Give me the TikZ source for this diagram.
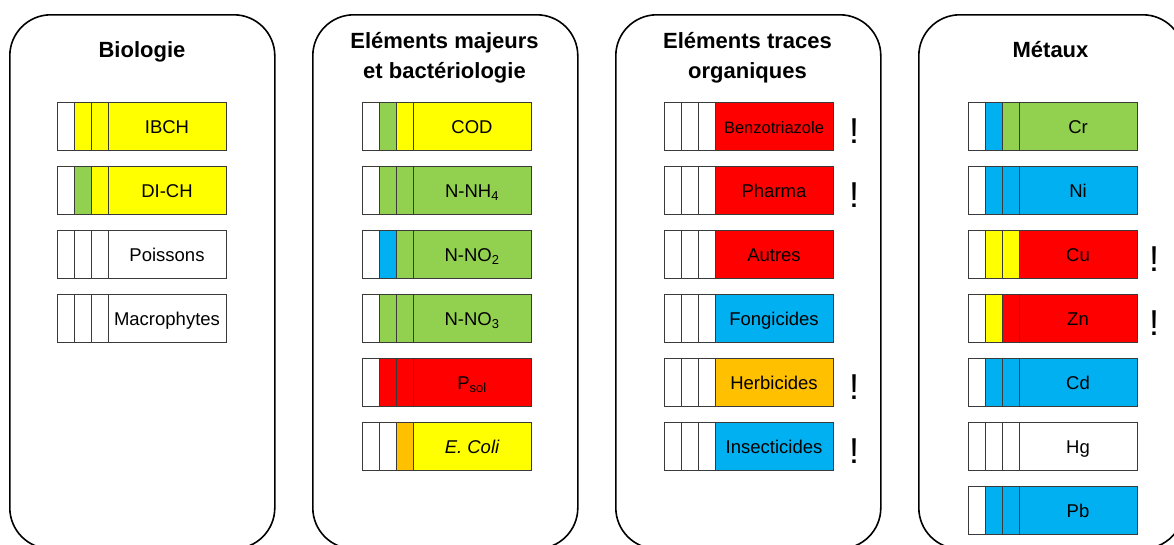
\documentclass[tikz,border=0pt]{standalone}
\usepackage{fontspec}
\setmainfont{Liberation Sans}
\definecolor{cY}{HTML}{FFFF00}
\definecolor{cG}{HTML}{92D050}
\definecolor{cB}{HTML}{00B0F0}
\definecolor{cR}{HTML}{FF0000}
\definecolor{cO}{HTML}{FFC000}
\definecolor{cW}{HTML}{FFFFFF}
\definecolor{lineg}{HTML}{3A3A3A}
\tikzset{
  cell/.style={draw=lineg, line width=0.9pt, minimum width=17pt, minimum height=48pt, inner sep=0pt, outer sep=0pt, anchor=north west},
  maincell/.style={cell, minimum width=118pt, text height=15pt, text depth=0pt, font=\fontsize{18.5}{20}\selectfont},
  panel/.style={draw=black, line width=1.6pt, rounded corners=41pt, minimum width=265pt, minimum height=534pt, anchor=north west, inner sep=0pt},
  ttl/.style={anchor=base, font=\fontsize{22}{26}\selectfont\bfseries, inner sep=0pt},
  excl/.style={anchor=base, font=\fontsize{36}{36}\selectfont, inner sep=0pt},
}
\newcommand{\barrow}[8]{%
  \node[cell,fill=#4] (#1-1) at (#2,#3) {};
  \node[cell,fill=#5] (#1-2) at (#2+17,#3) {};
  \node[cell,fill=#6] (#1-3) at (#2+34,#3) {};
  \node[maincell,fill=#7] (#1) at (#2+51,#3) {#8};
}
\begin{document}
\begin{tikzpicture}[x=1pt,y=-1pt]
\useasboundingbox (0,0) rectangle (1174,544);
\clip (0,0) rectangle (1174,544);
% panels
\node[panel] (p1) at (9,14) {};
\node[panel] (p2) at (312,14) {};
\node[panel] (p3) at (615,14) {};
\node[panel] (p4) at (918,14) {};
% titles
\node[ttl] (t1) at (142,57) {Biologie};
\node[ttl] (t2a) at (444.5,48.5) {Eléments majeurs};
\node[ttl] (t2b) at (444.5,78) {et bactériologie};
\node[ttl] (t3a) at (747.5,48.5) {Eléments traces};
\node[ttl] (t3b) at (747.5,78) {organiques};
\node[ttl] (t4) at (1050.5,57) {Métaux};
% Biologie
\barrow{ibch}{57}{102}{cW}{cY}{cY}{cY}{IBCH}
\barrow{dich}{57}{166}{cW}{cG}{cY}{cY}{DI-CH}
\barrow{pois}{57}{230}{cW}{cW}{cW}{cW}{Poissons}
\barrow{macr}{57}{294}{cW}{cW}{cW}{cW}{Macrophytes}
% Elements majeurs
\barrow{cod}{362}{102}{cW}{cG}{cY}{cY}{COD}
\barrow{nnh}{362}{166}{cW}{cG}{cG}{cG}{N-NH\textsubscript{4}}
\barrow{nno2}{362}{230}{cW}{cB}{cG}{cG}{N-NO\textsubscript{2}}
\barrow{nno3}{362}{294}{cW}{cG}{cG}{cG}{N-NO\textsubscript{3}}
\barrow{psol}{362}{358}{cW}{cR}{cR}{cR}{P\textsubscript{sol}}
\barrow{ecoli}{362}{422}{cW}{cW}{cO}{cY}{\itshape E. Coli}
% Elements traces organiques
\barrow{benz}{664}{102}{cW}{cW}{cW}{cR}{\fontsize{16.5}{18}\selectfont Benzotriazole}
\barrow{phar}{664}{166}{cW}{cW}{cW}{cR}{Pharma}
\barrow{autr}{664}{230}{cW}{cW}{cW}{cR}{Autres}
\barrow{fong}{664}{294}{cW}{cW}{cW}{cB}{Fongicides}
\barrow{herb}{664}{358}{cW}{cW}{cW}{cO}{Herbicides}
\barrow{inse}{664}{422}{cW}{cW}{cW}{cB}{Insecticides}
% Metaux
\barrow{cr}{968}{102}{cW}{cB}{cG}{cG}{Cr}
\barrow{ni}{968}{166}{cW}{cB}{cB}{cB}{Ni}
\barrow{cu}{968}{230}{cW}{cY}{cY}{cR}{Cu}
\barrow{zn}{968}{294}{cW}{cY}{cR}{cR}{Zn}
\barrow{cd}{968}{358}{cW}{cB}{cB}{cB}{Cd}
\barrow{hg}{968}{422}{cW}{cW}{cW}{cW}{Hg}
\barrow{pb}{968}{486}{cW}{cB}{cB}{cB}{Pb}
% exclamation marks
\node[excl] (e1) at (854,143) {!};
\node[excl] (e2) at (854,207) {!};
\node[excl] (e3) at (854,399) {!};
\node[excl] (e4) at (854,463) {!};
\node[excl] (e5) at (1154,271) {!};
\node[excl] (e6) at (1154,335) {!};
\end{tikzpicture}
\end{document}
